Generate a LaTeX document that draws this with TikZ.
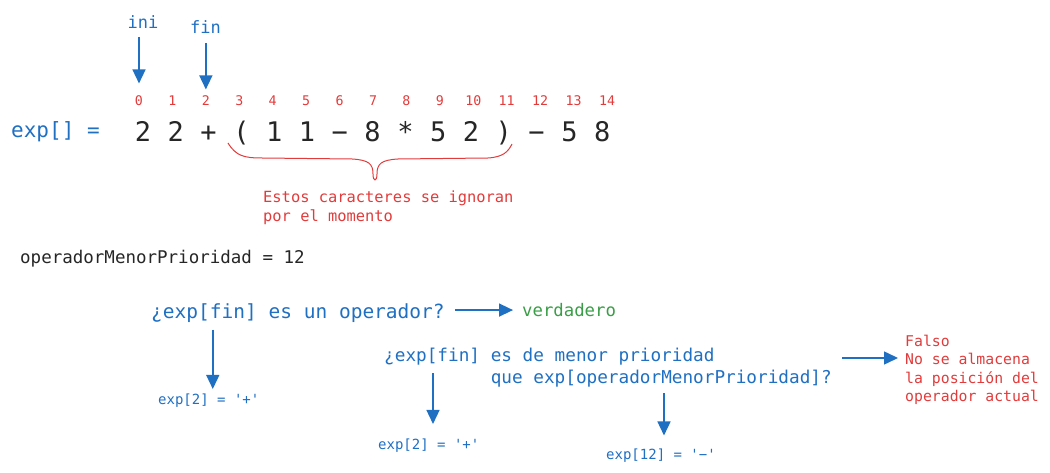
\documentclass[tikz,border=0pt]{standalone}
\usepackage{fontspec}
\setmainfont{DejaVu Sans Mono}[Ligatures=TeXOff]
\usetikzlibrary{arrows.meta}
\definecolor{azul}{HTML}{1F6FC2}
\definecolor{rojo}{HTML}{E23B3B}
\definecolor{verde}{HTML}{3A9D47}
\definecolor{tinta}{HTML}{262626}
\begin{document}
\begin{tikzpicture}[x=1pt,y=-1pt,
  txt/.style={inner sep=0pt,anchor=base west},
  car/.style={inner sep=0pt,anchor=base,tinta,font=\fontsize{27}{30}\selectfont},
  idx/.style={inner sep=0pt,anchor=base,rojo,font=\fontsize{13.3}{15}\selectfont},
  res/.style={txt,azul,font=\fontsize{14}{16}\selectfont},
  flecha/.style={azul,line width=1.5pt,-{Triangle[width=13pt,length=14pt]}}]
\useasboundingbox (0,0) rectangle (1050,473);
\node[txt,azul,font=\fontsize{21}{24}\selectfont] (exp) at (11,137.5) {exp[] =};
\foreach \c [count=\i from 0] in {2,2,+,{(},1,1,−,8,*,5,2,{)},−,5,8}
  \node[car] (c\i) at (143+32.8*\i,141.7) {\c};
\foreach \i in {0,...,14}
  \node[idx] (i\i) at (139+33.43*\i,105.5) {\i};
\node[inner sep=0pt,anchor=base,azul,font=\fontsize{17}{20}\selectfont] (ini) at (143,28.3) {ini};
\node[inner sep=0pt,anchor=base,azul,font=\fontsize{17}{20}\selectfont] (fin) at (205.5,33.3) {fin};
\draw[flecha,shorten <=8.5pt,shorten >=12pt] (ini.base -| i0) -- (i0.north);
\draw[flecha,shorten <=9.5pt,shorten >=6pt] (fin.base -| i2) -- (i2.north);
\draw[rojo,line width=1pt] (228,143) .. controls (236,156) and (244,158) .. (262,158) -- (352,159)
  .. controls (369,160) and (373,164) .. (373,174) .. controls (373,182) and (377,182) .. (377,174)
  .. controls (377,164) and (381,160) .. (398,159) -- (488,158) .. controls (503,157) and (508,152) .. (512,144);
\node[inner sep=0pt,anchor=west,align=left,rojo,font=\fontsize{15.4}{19}\selectfont] (ign) at (263,207.5)
  {Estos caracteres se ignoran\\por el momento};
\node[txt,tinta,font=\fontsize{17.5}{20}\selectfont] (omp) at (20,263.3) {operadorMenorPrioridad = 12};
\node[txt,azul,font=\fontsize{19.5}{22}\selectfont] (q1) at (151,318.3) {¿exp[fin] es un operador?};
\node[txt,verde,font=\fontsize{17.3}{20}\selectfont] (verd) at (522,316.5) {verdadero};
\node[res] (r1) at (158,404.3) {exp[2] = '+'};
\draw[flecha,shorten <=7pt,shorten >=4.5pt] ([xshift=4pt]r1.north |- q1.south) -- ([xshift=4pt]r1.north);
\draw[flecha,shorten <=10pt,shorten >=9pt] (q1.east |- verd.west) -- (verd.west);
\node[inner sep=0pt,anchor=west,align=left,azul,font=\fontsize{17.7}{21.6}\selectfont] (q2) at (384,367.9)
  {¿exp[fin] es de menor prioridad\\\phantom{¿exp[fin]~}que exp[operadorMenorPrioridad]?};
\node[res] (r2) at (378,449.3) {exp[2] = '+'};
\node[res] (r3) at (606,459.3) {exp[12] = '−'};
\node[inner sep=0pt,anchor=west,align=left,rojo,font=\fontsize{14.8}{18.3}\selectfont] (falso) at (905,370)
  {Falso\\No se almacena\\la posición del\\operador actual};
\coordinate (p2) at (433,373);
\coordinate (p3) at (664,393);
\coordinate (p4) at (842,358);
\draw[flecha,shorten >=14.5pt] (p2) -- (p2 |- r2.north);
\draw[flecha,shorten >=13pt] (p3) -- (p3 |- r3.north);
\draw[flecha,shorten >=7pt] (p4) -- (p4 -| falso.west);
\end{tikzpicture}
\end{document}
